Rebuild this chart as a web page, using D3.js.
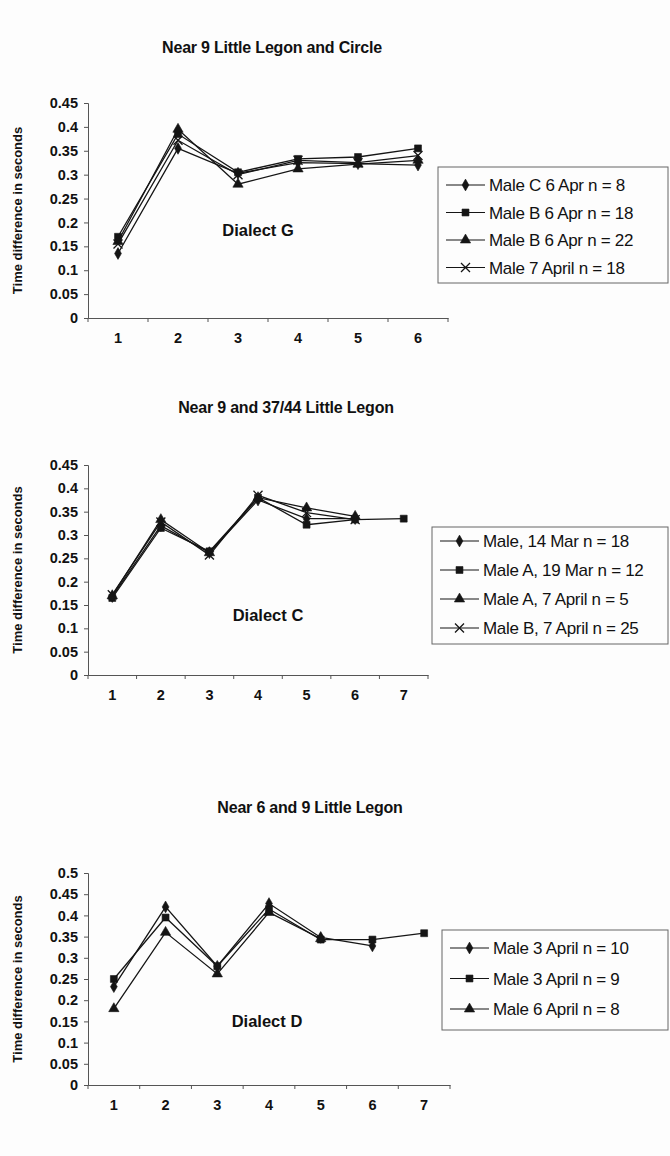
<!DOCTYPE html>
<html>
<head>
<meta charset="utf-8">
<script src="https://cdn.jsdelivr.net/npm/d3@7"></script>
<style>
  html, body { margin: 0; padding: 0; background: #fdfdfd; }
  svg { display: block; }
  text { font-family: "Liberation Sans", Arial, sans-serif; fill: #111; }
</style>
</head>
<body>
<svg id="fig" width="670" height="1156"></svg>
<script>
// ---- Data ---------------------------------------------------------------
const titles = [
  "Near 9 Little Legon and Circle",
  "Near 9 and 37/44 Little Legon",
  "Near 6 and 9 Little Legon"
];
const dialects = ["Dialect G", "Dialect C", "Dialect D"];
const yMaxima = [0.45, 0.45, 0.5];

const categoriesG = [1, 2, 3, 4, 5, 6];
const categoriesC = [1, 2, 3, 4, 5, 6, 7];
const categoriesD = [1, 2, 3, 4, 5, 6, 7];

const namesG = ["Male C 6 Apr n = 8", "Male B 6 Apr n = 18", "Male B 6 Apr n = 22", "Male 7 April n = 18"];
const valuesG = [
  [0.135, 0.355, 0.303, 0.325, 0.323, 0.320],
  [0.170, 0.385, 0.305, 0.333, 0.337, 0.355],
  [0.160, 0.395, 0.280, 0.312, 0.322, 0.330],
  [0.155, 0.372, 0.300, 0.330, 0.325, 0.340]
];

const namesC = ["Male, 14 Mar n = 18", "Male A, 19 Mar n = 12", "Male A, 7 April n = 5", "Male B, 7 April n = 25"];
const valuesC = [
  [0.168, 0.320, 0.262, 0.375, 0.335, 0.335],
  [0.165, 0.315, 0.265, 0.380, 0.322, 0.333, 0.335],
  [0.170, 0.333, 0.262, 0.380, 0.358, 0.340],
  [0.172, 0.328, 0.257, 0.385, 0.348, 0.333]
];

const namesD = ["Male 3 April n = 10", "Male 3 April n = 9", "Male 6 April n = 8"];
const valuesD = [
  [0.232, 0.420, 0.280, 0.428, 0.348, 0.328],
  [0.250, 0.395, 0.280, 0.415, 0.343, 0.343, 0.358],
  [0.180, 0.360, 0.262, 0.407, 0.345]
];

const markerKinds = ["diamond", "square", "triangle", "cross"];

// ---- Layout of the three panels -----------------------------------------
const panels = [
  { cats: categoriesG, names: namesG, values: valuesG,
    x0: 88, x1: 448, yTop: 103, yBottom: 318, titleX: 272, titleY: 53,
    dialX: 258, dialY: 236,
    legend: { x: 438, y: 167, w: 230, h: 116, row0: 185, step: 27.5 } },
  { cats: categoriesC, names: namesC, values: valuesC,
    x0: 88, x1: 428, yTop: 465, yBottom: 675, titleX: 286, titleY: 413,
    dialX: 268, dialY: 621,
    legend: { x: 432, y: 527, w: 236, h: 117, row0: 541, step: 29 } },
  { cats: categoriesD, names: namesD, values: valuesD,
    x0: 88, x1: 450, yTop: 873, yBottom: 1085, titleX: 310, titleY: 813,
    dialX: 267, dialY: 1027,
    legend: { x: 442, y: 930, w: 226, h: 100, row0: 948, step: 30.5 } }
];

const svg = d3.select("#fig");
const ink = "#151515";
const axisInk = "#555";

function marker(sel, kind, cx, cy) {
  const g = sel.append("g").attr("transform", `translate(${cx},${cy})`);
  if (kind === "cross") {
    g.append("path").attr("d", "M-4.5,-4.5L4.5,4.5M-4.5,4.5L4.5,-4.5")
      .attr("stroke", ink).attr("stroke-width", 1.3).attr("fill", "none");
  } else {
    const type = { diamond: d3.symbolDiamond, square: d3.symbolSquare, triangle: d3.symbolTriangle }[kind];
    const size = { diamond: 40, square: 48, triangle: 46 }[kind];
    g.append("path").attr("d", d3.symbol().type(type).size(size)())
      .attr("fill", ink).attr("stroke", ink).attr("stroke-width", 0.6);
  }
}

panels.forEach((p, i) => {
  const g = svg.append("g");
  const y = d3.scaleLinear().domain([0, yMaxima[i]]).range([p.yBottom, p.yTop]);
  const x = d3.scaleBand().domain(p.cats).range([p.x0, p.x1]);
  const cx = d => x(d) + x.bandwidth() / 2;

  // title
  g.append("text").attr("x", p.titleX).attr("y", p.titleY)
    .attr("text-anchor", "middle").attr("font-size", 16).attr("font-weight", "bold")
    .attr("letter-spacing", -0.2)
    .text(titles[i]);

  // y axis
  const yTicks = d3.range(0, yMaxima[i] + 1e-9, 0.05).map(v => +v.toFixed(2));
  const yAxis = d3.axisLeft(y).tickValues(yTicks).tickSize(4).tickPadding(6)
    .tickFormat(d => String(+d.toFixed(2)));
  const ya = g.append("g").attr("transform", `translate(${p.x0},0)`).call(yAxis);
  ya.select(".domain").attr("stroke", axisInk).attr("stroke-width", 1);
  ya.selectAll(".tick line").attr("stroke", axisInk);
  ya.selectAll(".tick text").attr("font-size", 14.5).attr("font-weight", "bold")
    .attr("fill", ink).attr("font-family", "Liberation Sans, Arial, sans-serif");

  // y axis title
  g.append("text")
    .attr("transform", `translate(22,${(p.yTop + p.yBottom) / 2}) rotate(-90)`)
    .attr("text-anchor", "middle").attr("font-size", 13).attr("font-weight", "bold")
    .text("Time difference in seconds");

  // x axis: labels centred in each category, ticks at category boundaries
  const xAxis = d3.axisBottom(x).tickSize(0).tickPadding(15);
  const xa = g.append("g").attr("transform", `translate(0,${p.yBottom})`).call(xAxis);
  xa.select(".domain").attr("stroke", axisInk).attr("stroke-width", 1);
  xa.selectAll(".tick text").attr("font-size", 14.5).attr("font-weight", "bold")
    .attr("fill", ink).attr("font-family", "Liberation Sans, Arial, sans-serif");
  const bounds = p.cats.map(c => x(c)).concat([x(p.cats[p.cats.length - 1]) + x.bandwidth()]);
  g.append("g").selectAll("line").data(bounds).join("line")
    .attr("x1", d => d).attr("x2", d => d)
    .attr("y1", p.yBottom).attr("y2", p.yBottom + 4)
    .attr("stroke", axisInk);

  // dialect label
  g.append("text").attr("x", p.dialX).attr("y", p.dialY)
    .attr("text-anchor", "middle").attr("font-size", 16.5).attr("font-weight", "bold")
    .text(dialects[i]);

  // series lines + markers
  const line = d3.line().x((d, k) => cx(p.cats[k])).y(d => y(d));
  p.values.forEach(vals => {
    g.append("path").datum(vals).attr("d", line)
      .attr("fill", "none").attr("stroke", ink).attr("stroke-width", 1.3);
  });
  p.values.forEach((vals, s) => {
    vals.forEach((v, k) => marker(g, markerKinds[s], cx(p.cats[k]), y(v)));
  });

  // legend
  const L = p.legend;
  g.append("rect").attr("x", L.x).attr("y", L.y).attr("width", L.w).attr("height", L.h)
    .attr("fill", "none").attr("stroke", "#666").attr("stroke-width", 1);
  p.names.forEach((name, s) => {
    const ry = L.row0 + s * L.step;
    g.append("line").attr("x1", L.x + 8).attr("x2", L.x + 47).attr("y1", ry).attr("y2", ry)
      .attr("stroke", ink).attr("stroke-width", 1.2);
    marker(g, markerKinds[s], L.x + 27.5, ry);
    g.append("text").attr("x", L.x + 51).attr("y", ry + 6)
      .attr("font-size", 17).attr("letter-spacing", -0.3).text(name);
  });
});
</script>
</body>
</html>
